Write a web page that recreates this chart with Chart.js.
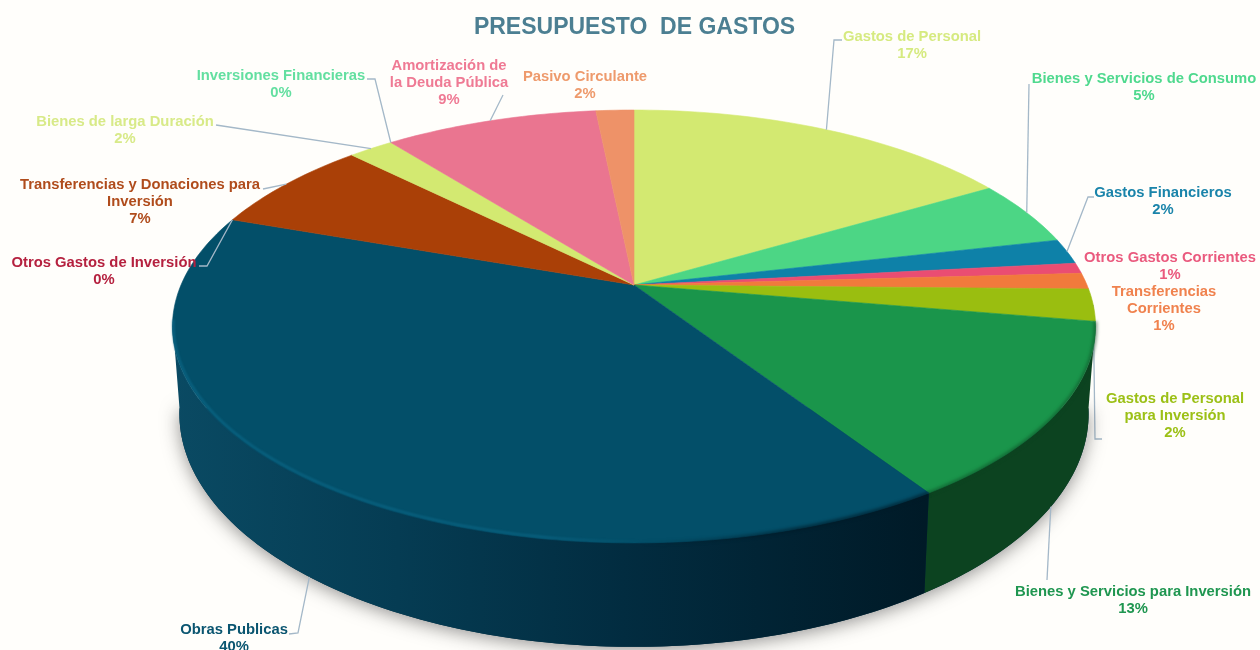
<!DOCTYPE html>
<html>
<head>
<meta charset="utf-8">
<title>Presupuesto de Gastos</title>
<script src="https://cdn.jsdelivr.net/npm/chart.js@4"></script>
<style>
    html, body { margin: 0; padding: 0; background: #fffefb; }
    #wrap { width: 1260px; height: 650px; overflow: hidden; }
    canvas { filter: blur(0.5px); }
</style>
</head>
<body>
<div id="wrap"><canvas id="myChart" width="1260" height="650"></canvas></div>
<script>
const categoryLines = [
    ['Gastos de Personal'],
    ['Bienes y Servicios de Consumo'],
    ['Gastos Financieros'],
    ['Otros Gastos Corrientes'],
    ['Transferencias', 'Corrientes'],
    ['Gastos de Personal', 'para Inversión'],
    ['Bienes y Servicios para Inversión'],
    ['Obras Publicas'],
    ['Otros Gastos de Inversión'],
    ['Transferencias y Donaciones para', 'Inversión'],
    ['Bienes de larga Duración'],
    ['Inversiones Financieras'],
    ['Amortización de', 'la Deuda Pública'],
    ['Pasivo Circulante']
];
const values = [16.5, 4.9, 1.9, 0.8, 1.2, 2.4, 13.1, 39.6, 0, 7.1, 1.9, 0, 9.0, 1.6];

const sliceColors = ['#d3e971', '#4cd685', '#0e81a8', '#ea4d72', '#f17a3c', '#9abe10', '#1a954b',
    '#034f69', '#b01c3c', '#aa4007', '#d3e971', '#4cd685', '#ea7590', '#ee9268'];
const labelColors = ['#d6ea80', '#4fd98e', '#1a84aa', '#ea5a7e', '#f0824e', '#9cc016', '#1f9650',
    '#0a5570', '#b5213f', '#b04c1c', '#d8ea88', '#63dfa0', '#ef7a94', '#ee9a6c'];

// centre x and first line y of every data label
const labelPos = [[912, 36], [1144, 78], [1163, 192], [1170, 257], [1164, 291], [1175, 398], [1133, 591],
    [234, 629], [104, 262], [140, 184], [125, 121], [281, 75], [449, 65], [585, 76]];
// where the leader line ends next to the label, null when there is none
const leaderEnds = [
    [[834, 40], [842, 40]],
    [[1029, 84]],
    [[1088, 197], [1094, 197]],
    null,
    null,
    [[1095, 439], [1102, 439]],
    [[1047, 580]],
    [[298, 633], [289, 634]],
    [[207, 266], [199, 266]],
    [[263, 189]],
    [[216, 125]],
    [[375, 79], [367, 79]],
    [[503, 95]],
    null
];
const leaderBehindDisc = 5;

// perspective of the disc: apex, half axes, tilt, wall height
const cx = 634, cy = 285, axisX = 453, axisY = 208.5, tilt = 0.1916, wall = 84;

function rim(a) {
    const d = 1 - tilt * Math.sin(a);
    return { x: cx + axisX * Math.cos(a) / d, y: cy + axisY * Math.sin(a) / d };
}
function lowerRim(a) {
    const p = rim(a), d = 1 - tilt * Math.sin(a);
    return { x: cx + (p.x - cx) * 0.985, y: p.y + wall / d };
}
function rimPath(ctx, from, to, fn, first) {
    const n = Math.max(2, Math.ceil(Math.abs(to - from) / 0.02));
    for (let i = 0; i <= n; i++) {
        const p = fn(from + (to - from) * i / n);
        if (i === 0 && first) ctx.moveTo(p.x, p.y); else ctx.lineTo(p.x, p.y);
    }
}

function wallFill(ctx, i) {
    if (i === 7) {
        const g = ctx.createLinearGradient(172, 0, 925, 0);
        g.addColorStop(0, '#0a4a63');
        g.addColorStop(0.3, '#053c53');
        g.addColorStop(0.6, '#022c40');
        g.addColorStop(1, '#001a27');
        return g;
    }
    return i === 6 ? '#0c4320' : '#123c12';
}

function drawLeader(ctx, arc, i, lo) {
    if (!leaderEnds[i]) return;
    const mid = (arc.startAngle + arc.endAngle) / 2;
    const p = Math.sin(mid) > lo ? lowerRim(mid) : rim(mid);
    ctx.save();
    ctx.strokeStyle = '#a4b8c8';
    ctx.lineWidth = 1.3;
    ctx.beginPath();
    ctx.moveTo(p.x, p.y);
    leaderEnds[i].forEach(q => ctx.lineTo(q[0], q[1]));
    ctx.stroke();
    ctx.restore();
}

const pie3d = {
    id: 'pie3d',
    beforeDatasetDraw(chart) {
        const ctx = chart.ctx;
        const arcs = chart.getDatasetMeta(0).data;
        const lo = Math.asin(tilt * 0.88), hi = Math.PI - lo;

        drawLeader(ctx, arcs[leaderBehindDisc], leaderBehindDisc, lo);

        // soft shadow under the wall
        ctx.save();
        ctx.shadowColor = 'rgba(40,40,40,0.5)';
        ctx.shadowBlur = 18;
        ctx.shadowOffsetY = 3;
        ctx.fillStyle = '#022c40';
        ctx.beginPath();
        rimPath(ctx, lo, hi, lowerRim, true);
        ctx.closePath();
        ctx.fill();
        ctx.restore();

        // wall
        arcs.forEach((arc, i) => {
            const from = Math.max(arc.startAngle, lo), to = Math.min(arc.endAngle, hi);
            if (to <= from) return;
            ctx.fillStyle = wallFill(ctx, i);
            ctx.beginPath();
            rimPath(ctx, from, to, rim, true);
            rimPath(ctx, to, from, lowerRim, false);
            ctx.closePath();
            ctx.fill();
        });

        // top face
        arcs.forEach((arc, i) => {
            if (arc.endAngle <= arc.startAngle) return;
            ctx.fillStyle = sliceColors[i];
            ctx.strokeStyle = sliceColors[i];
            ctx.lineWidth = 0.6;
            ctx.beginPath();
            ctx.moveTo(cx, cy);
            rimPath(ctx, arc.startAngle, arc.endAngle, rim, false);
            ctx.closePath();
            ctx.fill();
            ctx.stroke();
        });

        // bevel along the front edge
        const obras = arcs[7];
        ctx.save();
        const shine = ctx.createLinearGradient(172, 0, 640, 0);
        shine.addColorStop(0, 'rgba(14,112,146,0.7)');
        shine.addColorStop(0.8, 'rgba(14,112,146,0.6)');
        shine.addColorStop(1, 'rgba(14,112,146,0)');
        ctx.strokeStyle = shine;
        ctx.lineWidth = 2;
        ctx.filter = 'blur(0.8px)';
        ctx.beginPath();
        rimPath(ctx, Math.max(obras.startAngle, lo), Math.min(obras.endAngle, hi), a => {
            const p = rim(a);
            return { x: p.x + 0.8 * Math.sign(cx - p.x), y: p.y - 1.6 };
        }, true);
        ctx.stroke();
        const dark = ctx.createLinearGradient(640, 0, 800, 0);
        dark.addColorStop(0, 'rgba(0,26,39,0)');
        dark.addColorStop(1, 'rgba(0,26,39,0.6)');
        ctx.strokeStyle = dark;
        ctx.lineWidth = 4;
        ctx.filter = 'blur(1.8px)';
        ctx.beginPath();
        rimPath(ctx, obras.startAngle, Math.min(obras.endAngle, hi), rim, true);
        ctx.stroke();
        ctx.strokeStyle = 'rgba(12,67,32,0.45)';
        ctx.beginPath();
        rimPath(ctx, Math.max(arcs[6].startAngle, lo), arcs[6].endAngle, rim, true);
        ctx.stroke();
        ctx.restore();

        arcs.forEach((arc, i) => {
            if (i !== leaderBehindDisc) drawLeader(ctx, arc, i, lo);
        });

        return false;
    },
    afterDraw(chart) {
        const ctx = chart.ctx;
        ctx.save();
        ctx.font = 'bold 14.8px "Liberation Sans", Arial, sans-serif';
        ctx.textAlign = 'center';
        ctx.textBaseline = 'middle';
        categoryLines.forEach((lines, i) => {
            ctx.fillStyle = labelColors[i];
            const [x, y] = labelPos[i];
            lines.concat(Math.round(values[i]) + '%').forEach((t, j) => ctx.fillText(t, x, y + 1 + j * 17));
        });
        ctx.restore();
    }
};

const ctx = document.getElementById('myChart').getContext('2d');
const myChart = new Chart(ctx, {
    type: 'pie',
    data: {
        labels: categoryLines.map(l => l.join(' ')),
        datasets: [{
            data: values,
            backgroundColor: sliceColors,
            borderWidth: 0
        }]
    },
    options: {
        responsive: false,
        animation: false,
        layout: { padding: { left: 9 } },
        plugins: {
            legend: { display: false },
            tooltip: { enabled: false },
            title: {
                display: true,
                text: 'PRESUPUESTO  DE GASTOS',
                color: '#4c7f92',
                font: { family: '"Liberation Sans", Arial, sans-serif', size: 23, weight: 'bold' },
                padding: { top: 14, bottom: 0 }
            }
        }
    },
    plugins: [pie3d]
});
</script>
</body>
</html>
